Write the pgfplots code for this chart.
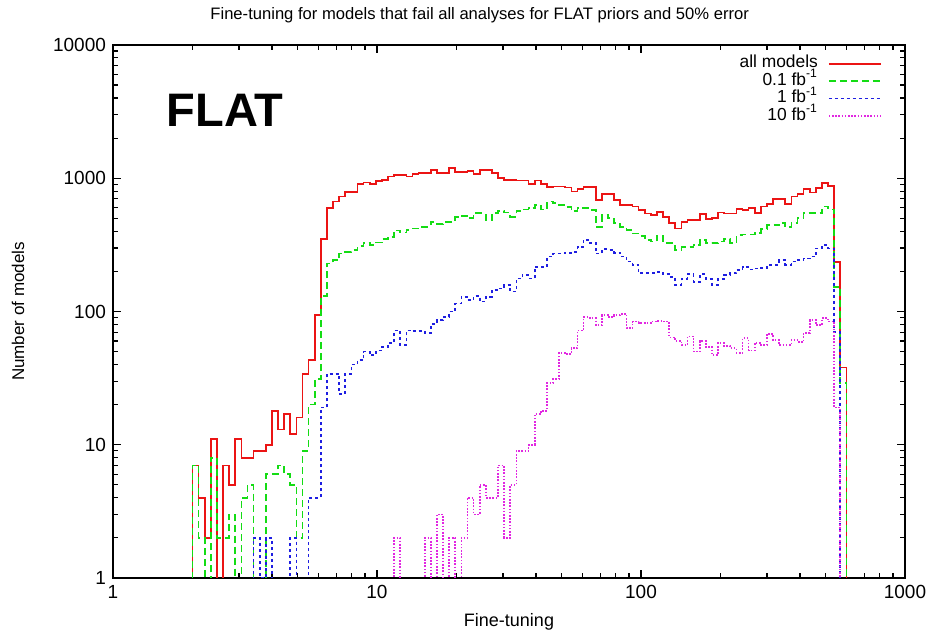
\documentclass[border=0pt]{standalone}
\usepackage{pgfplots}
\pgfplotsset{compat=1.18}
\usepackage{pgfplotstable}
\usepackage{fontspec}
\setmainfont{Liberation Sans}
\definecolor{cred}{RGB}{235,20,20}
\definecolor{cgreen}{RGB}{20,220,20}
\definecolor{cblue}{RGB}{30,30,225}
\definecolor{cmag}{RGB}{225,40,225}

\pgfplotstableread{
x r g b m
0.3010 0 0 0 0
0.3010 7 7 0 0
0.3242 4 2 0 0
0.3473 2 0 0 0
0.3705 11 8 0 0
0.3936 0 2 0 0
0.4168 7 2 0 0
0.4399 5 3 0 0
0.4631 11 0 0 0
0.4862 8 4 0 0
0.5094 8 5 0 0
0.5325 9 0 2 0
0.5557 9 0 1 0
0.5788 10 6 2 0
0.6020 18 6 0 0
0.6251 13 7 0 0
0.6483 17 6 0 0
0.6714 12 5 2 0
0.6946 16 2 0 0
0.7177 34 9 0 0
0.7409 43 20 4 0
0.7640 94 31 4 0
0.7872 350 130 19 0
0.8103 600 229 34 0
0.8335 670 243 34 0
0.8566 730 272 24 0
0.8798 790 280 34 0
0.9029 790 290 40 0
0.9261 900 310 43 0
0.9492 930 326 50 0
0.9724 900 315 47 0
0.9955 950 330 51 0
1.0187 970 350 54 0
1.0418 1030 363 58 0
1.0650 1060 405 72 2
1.0881 1060 391 56 0
1.1113 1030 410 72 0
1.1344 1080 420 71 0
1.1576 1100 432 71 0
1.1807 1100 432 69 2
1.2039 1150 472 81 0
1.2270 1100 455 86 3
1.2502 1100 472 91 0
1.2733 1190 472 100 2
1.2965 1110 510 115 0
1.3196 1110 523 129 2
1.3428 1140 500 122 4
1.3659 1080 546 131 3
1.3891 1150 546 119 5
1.4122 1150 487 129 4
1.4354 1100 546 145 4
1.4585 1000 570 149 7
1.4817 970 552 158 2
1.5048 970 514 141 5
1.5280 960 570 177 9
1.5511 960 584 188 9
1.5743 905 600 177 10
1.5974 960 630 216 17
1.6206 905 584 216 18
1.6437 855 670 258 29
1.6669 866 648 272 31
1.6900 866 630 272 49
1.7132 850 605 275 48
1.7363 794 570 280 53
1.7595 826 600 305 72
1.7826 855 600 345 91
1.8058 855 578 327 89
1.8289 686 432 272 79
1.8521 765 529 293 94
1.8752 765 500 290 91
1.8984 686 460 275 94
1.9215 630 432 258 96
1.9447 630 410 237 75
1.9678 613 385 224 84
1.9910 578 370 194 82
2.0141 545 345 194 82
2.0373 529 335 194 84
2.0604 561 370 198 85
2.0836 514 325 190 84
2.1067 464 325 182 64
2.1299 419 290 158 60
2.1530 472 303 175 56
2.1762 487 303 190 65
2.1993 487 315 167 50
2.2225 537 345 190 60
2.2456 493 325 175 54
2.2688 500 325 158 47
2.2919 552 335 175 58
2.3151 545 348 188 55
2.3382 545 325 194 53
2.3614 585 375 205 49
2.3845 580 378 215 63
2.4077 595 378 207 51
2.4308 550 390 210 58
2.4540 613 415 213 56
2.4771 642 445 224 68
2.5003 696 445 224 61
2.5234 696 464 243 56
2.5466 642 432 224 56
2.5697 731 464 237 61
2.5929 765 500 243 59
2.6160 826 546 250 69
2.6392 780 546 258 86
2.6623 840 546 297 79
2.6855 916 613 315 89
2.7086 876 584 297 84
2.7318 236 153 70 19
2.7549 38 29 0 0
2.7781 0 0 0 0
}\data

\begin{document}
\begin{tikzpicture}
\path[use as bounding box] (-56.5pt,-28.5pt) rectangle (406.5pt,289pt);
\begin{axis}[
  at={(0,0)}, anchor=south west,
  scale only axis, width=396pt, height=266.5pt,
  xmin=0, xmax=3, ymode=log, ymin=1, ymax=10000,
  xtick={0,1,2,3}, xticklabels={1,10,100,1000},
  minor xtick={0.30103,0.47712,0.60206,0.69897,0.77815,0.84510,0.90309,0.95424,
    1.30103,1.47712,1.60206,1.69897,1.77815,1.84510,1.90309,1.95424,
    2.30103,2.47712,2.60206,2.69897,2.77815,2.84510,2.90309,2.95424},
  ytick={1,10,100,1000,10000}, yticklabels={1,10,100,1000,10000},
  minor ytick={2,3,4,5,6,7,8,9,20,30,40,50,60,70,80,90,200,300,400,500,600,700,800,900,2000,3000,4000,5000,6000,7000,8000,9000},
  tick align=inside, major tick length=4pt, minor tick length=2.5pt,
  tick style={black, line width=0.6pt},
  axis line style={black, line width=0.8pt},
  ticklabel style={font=\fontsize{9.5}{11}\selectfont},
  /pgf/number format/assume math mode=true,
  xlabel={Fine-tuning},
  xlabel style={at={(axis description cs:0.5,-0.0826)}, anchor=center, font=\fontsize{9}{11}\selectfont},
  ylabel={Number of models},
  ylabel style={at={(axis description cs:-0.12,0.5)}, anchor=center, font=\fontsize{8.5}{10}\selectfont},
  title={Fine-tuning for models that fail all analyses for FLAT priors and 50\% error},
  every axis title/.style={at={(axis description cs:0.463,1.056)}, anchor=center, font=\fontsize{8.3}{10}\selectfont},
  legend plot pos=right,
  legend cell align=right,
  legend image code/.code={\draw[#1] (0pt,0pt) -- (26pt,0pt);},
  legend style={draw=none, fill=none, at={(axis description cs:0.971,0.981)}, anchor=north east,
    inner sep=0pt, row sep=0.4pt, font=\fontsize{8.7}{10}\selectfont,
    nodes={inner sep=0pt, text height=6.2pt, text depth=2.1pt},
    /tikz/every odd column/.style={column sep=5pt}},
]
\addplot[cred, line width=0.85pt, const plot] table[x=x, y expr={max(\thisrow{r},0.1)}] {\data};
\addlegendentry{all models}
\addplot[cgreen, line width=0.85pt, const plot, dash pattern=on 3.5pt off 2pt] table[x=x, y expr={max(\thisrow{g},0.1)}] {\data};
\addlegendentry{0.1 fb\textsuperscript{-1}}
\addplot[cblue, line width=0.85pt, const plot, dash pattern=on 1.5pt off 1.5pt] table[x=x, y expr={max(\thisrow{b},0.1)}] {\data};
\addlegendentry{1 fb\textsuperscript{-1}}
\addplot[cmag, line width=0.8pt, const plot, dash pattern=on 0.8pt off 0.8pt] table[x=x, y expr={max(\thisrow{m},0.1)}] {\data};
\addlegendentry{10 fb\textsuperscript{-1}}
\node[font=\fontsize{23.5}{28}\selectfont\bfseries, anchor=center] at (axis description cs:0.1414,0.878) {FLAT};
\end{axis}
\end{tikzpicture}
\end{document}
